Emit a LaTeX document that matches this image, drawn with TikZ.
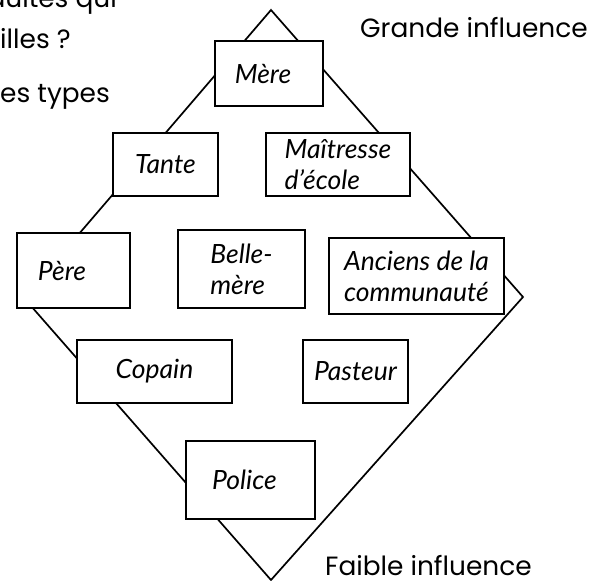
\documentclass[tikz,border=0pt]{standalone}
\usepackage{fontspec}
\newfontfamily\geo{Poppins}
\newfontfamily\hand{Lato}
\begin{document}
\begin{tikzpicture}[x=1pt,y=-1pt,
  edge/.style={line width=1.7pt, line join=miter},
  box/.style={draw, fill=white, line width=1.4pt, inner sep=0pt, align=left,
    font=\hand\itshape\fontsize{26.5}{31}\selectfont},
  big/.style={inner sep=0pt, font=\geo\fontsize{26.4}{30}\selectfont}]
\useasboundingbox (0,0) rectangle (592,581);
\clip (0,0) rectangle (592,581);
% diamond vertices
\coordinate (T) at (271,10);
\coordinate (R) at (523,297);
\coordinate (B) at (271,580);
\coordinate (L) at (24,298);
\draw[edge] (T) -- (R) -- (B) -- (L) -- cycle;
% boxes
\node[box, minimum width=108pt, minimum height=65pt] (mere) at (269,73.5) {Mère\hspace*{12pt}};
\node[box, minimum width=105pt, minimum height=63pt] (tante) at (165.5,164.5) {Tante};
\node[box, minimum width=144pt, minimum height=63pt] (maitresse) at (338,164.5) {Maîtresse\\d’école};
\node[box, minimum width=113pt, minimum height=75pt] (pere) at (73.5,270.5) {Père\hspace*{23pt}};
\node[box, minimum width=127pt, minimum height=78pt] (belle) at (241.5,269) {Belle-\\mère};
\node[box, minimum width=175pt, minimum height=76pt] (anciens) at (416.5,276) {Anciens de la\\communauté};
\node[box, minimum width=155pt, minimum height=63pt] (copain) at (154.5,371.5) {Copain};
\node[box, minimum width=105pt, minimum height=63pt] (pasteur) at (355.5,371.5) {Pasteur};
\node[box, minimum width=129pt, minimum height=78pt] (police) at (250.5,480) {Police\hspace*{12pt}};
% labels
\node[big, anchor=base west] (grande) at (360,37) {Grande influence};
\node[big, anchor=base west] (faible) at (325,575) {Faible influence};
\node[big, anchor=base east] (q1) at (117,7) {adultes qui};
\node[big, anchor=base west] (q2) at (0,48) {illes ?};
\node[big, anchor=base west] (q3) at (0,102) {es types};
\end{tikzpicture}
\end{document}
